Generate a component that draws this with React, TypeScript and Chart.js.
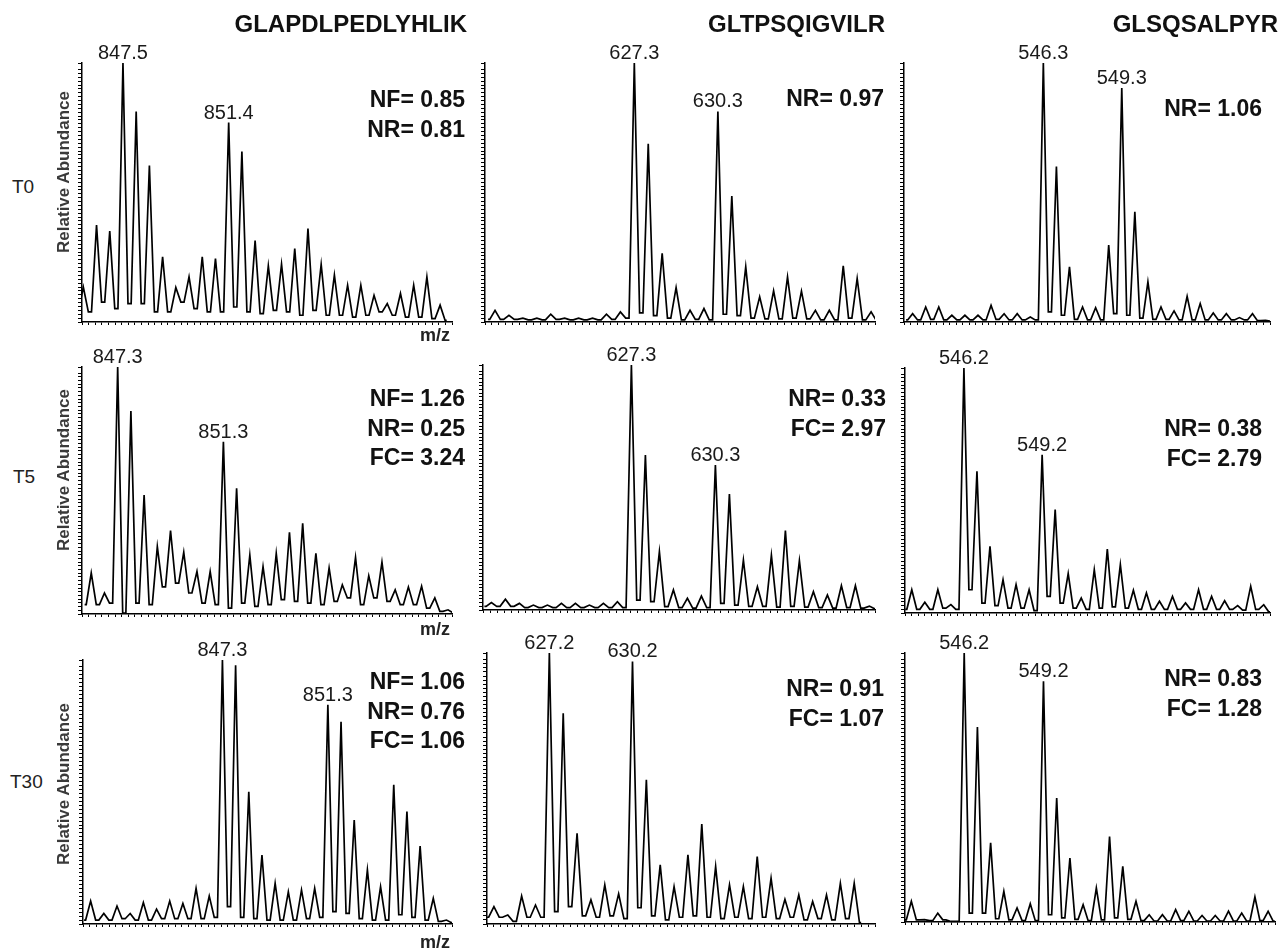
import React, { useEffect, useRef } from 'react';
import { Chart, registerables } from 'chart.js';

Chart.register(...registerables);

// ---------------- DATA ----------------
const PEPTIDES = ['GLAPDLPEDLYHLIK', 'GLTPSQIGVILR', 'GLSQSALPYR'];
const TIMEPOINTS = ['T0', 'T5', 'T30'];
const ISOTOPE_SPACING = 0.5; // m/z between isotopic peaks of the 2+ ions

// T0 – GLAPDLPEDLYHLIK
const T0_GLAP_RANGE = [846, 860];
const T0_GLAP_FIRST_MZ = 846.05;
const T0_GLAP_HEIGHTS = [13.5, 37.4, 35.1, 100, 81.3, 60.4, 25.2, 13.3, 17.4, 25.2, 24.5, 77, 65.8, 31.4, 21.7, 22.3, 28.4, 36.1, 22.2, 18.1, 14.2, 14.2, 10.3, 7.1, 11, 14.2, 17.4, 6.5];
const T0_GLAP_VALLEYS = [3.9, 7.7, 5.2, 7.1, 7.1, 3.9, 3.9, 7.7, 5.2, 3.9, 3.9, 5.8, 3.9, 3.2, 4.5, 3.9, 2.6, 4.5, 2.6, 2.6, 1.9, 2.6, 3.9, 2.6, 1.9, 1.9, 1.3, 0.6];
const T0_GLAP_PEAK_LABELS = [847.5, 851.4];
const T0_GLAP_STATS = ['NF= 0.85', 'NR= 0.81'];

// T0 – GLTPSQIGVILR
const T0_GLTP_RANGE = [622, 636];
const T0_GLTP_FIRST_MZ = 622.36;
const T0_GLTP_HEIGHTS = [4.5, 2.6, 1.5, 1.5, 3, 1.5, 1.5, 1.5, 3, 3.9, 100, 68.8, 26.5, 13.3, 4.5, 5.2, 81.3, 48.6, 21.3, 9.7, 12, 17.4, 11.9, 4.5, 4.5, 21.7, 16.8, 3.9];
const T0_GLTP_VALLEYS = [1, 1, 0.8, 0.8, 1, 0.8, 0.8, 0.8, 1, 1.5, 3.5, 2.5, 1.5, 0.8, 1, 0.8, 3, 2.5, 1.5, 1.2, 1.2, 1.5, 1.2, 0.8, 0.8, 1.5, 0.8, 0.5];
const T0_GLTP_PEAK_LABELS = [627.3, 630.3];
const T0_GLTP_STATS = ['NR= 0.97'];

// T0 – GLSQSALPYR
const T0_GLSQ_RANGE = [541, 555];
const T0_GLSQ_FIRST_MZ = 541.33;
const T0_GLSQ_HEIGHTS = [3.2, 5.8, 5.8, 2.6, 2.6, 2.6, 6.4, 3.2, 3.2, 1.9, 100, 60, 21.3, 5.8, 5.5, 29.7, 90.3, 42.6, 15.5, 5.8, 4.3, 9.9, 7.1, 3.5, 3.2, 1.7, 3.2, 0.6];
const T0_GLSQ_VALLEYS = [0.8, 1, 0.8, 0.8, 0.8, 0.8, 1, 0.8, 0.8, 0.8, 3.9, 2.6, 1, 0.8, 0.8, 3.2, 2.6, 1.5, 1, 1, 0.8, 0.8, 0.8, 0.8, 0.8, 0.8, 0.5, 0.3];
const T0_GLSQ_PEAK_LABELS = [546.3, 549.3];
const T0_GLSQ_STATS = ['NR= 1.06'];

// T5 – GLAPDLPEDLYHLIK
const T5_GLAP_RANGE = [846, 860];
const T5_GLAP_FIRST_MZ = 846.35;
const T5_GLAP_HEIGHTS = [16.6, 8.5, 100, 82.2, 48.2, 27.3, 33.8, 25, 17.2, 17.2, 69.7, 50.9, 23.8, 19.2, 24.5, 33.1, 36.7, 24.6, 18.6, 11.8, 22.9, 15.5, 21, 9.8, 10.9, 11.2, 6.5, 1.7];
const T5_GLAP_VALLEYS = [3.8, 4.4, 0.4, 4.4, 3.8, 11, 12.5, 8.5, 4.4, 3.8, 2.4, 4.4, 3.1, 3.8, 5.8, 5.1, 4.4, 3.8, 5.1, 6.5, 3.8, 6.5, 5.1, 3.8, 3.8, 2.4, 1.1, 0.4];
const T5_GLAP_PEAK_LABELS = [847.3, 851.3];
const T5_GLAP_STATS = ['NF= 1.26', 'NR= 0.25', 'FC= 3.24'];

// T5 – GLTPSQIGVILR
const T5_GLTP_RANGE = [622, 636];
const T5_GLTP_FIRST_MZ = 622.3;
const T5_GLTP_HEIGHTS = [3, 4.4, 2.7, 2, 2, 2.7, 2.7, 2, 2.7, 3.4, 100, 63.3, 23.8, 8.2, 4.8, 5.7, 59.2, 47.3, 20.4, 9.5, 22.3, 32.4, 20.1, 7.5, 6.1, 9.9, 9.9, 1.6];
const T5_GLTP_VALLEYS = [1.5, 1.5, 1, 1, 1, 1, 1, 1, 1, 1, 4, 3.4, 1.4, 1, 0.8, 1, 2.7, 2, 1.5, 1.5, 1.2, 1.5, 1.2, 1, 0.8, 1, 0.8, 0.5];
const T5_GLTP_PEAK_LABELS = [627.3, 630.3];
const T5_GLTP_STATS = ['NR= 0.33', 'FC= 2.97'];

// T5 – GLSQSALPYR
const T5_GLSQ_RANGE = [544, 558];
const T5_GLSQ_FIRST_MZ = 544.26;
const T5_GLSQ_HEIGHTS = [9.5, 4.4, 9.5, 3.4, 100, 57.8, 27.2, 13.6, 11.6, 9.5, 64.6, 42.2, 16.1, 6.1, 17.7, 26.1, 19.7, 9.3, 8.2, 4.8, 6.8, 4.1, 9.5, 6.8, 5, 3, 10.9, 3.4];
const T5_GLSQ_VALLEYS = [1.5, 1.5, 2, 1.5, 9.5, 4, 3, 2, 2, 1, 6.8, 4, 2, 1.5, 2, 2.5, 2, 1.5, 1.5, 1.5, 1.5, 1.5, 1.5, 1.5, 1.5, 1.2, 1.5, 0.5];
const T5_GLSQ_PEAK_LABELS = [546.2, 549.2];
const T5_GLSQ_STATS = ['NR= 0.38', 'FC= 2.79'];

// T30 – GLAPDLPEDLYHLIK
const T30_GLAP_RANGE = [842, 856];
const T30_GLAP_FIRST_MZ = 842.29;
const T30_GLAP_HEIGHTS = [8.7, 4, 6.8, 4, 8.1, 5.6, 8.7, 7.8, 13.5, 10.6, 100, 98, 50.1, 26.1, 15.4, 12.2, 12.9, 13.5, 83, 76.6, 39.4, 20.5, 14.1, 52.7, 42.6, 29.5, 9.7, 1.5];
const T30_GLAP_VALLEYS = [1.5, 1.5, 2, 1.5, 1.5, 2, 2, 2, 2, 2.5, 6.6, 2.5, 2, 1.5, 1.5, 1.5, 2, 2.5, 4.7, 4, 2, 1.5, 1.5, 3.5, 2.5, 1.5, 1, 0.5];
const T30_GLAP_PEAK_LABELS = [847.3, 851.3];
const T30_GLAP_STATS = ['NF= 1.06', 'NR= 0.76', 'FC= 1.06'];

// T30 – GLTPSQIGVILR
const T30_GLTP_RANGE = [625, 639];
const T30_GLTP_FIRST_MZ = 625.25;
const T30_GLTP_HEIGHTS = [6.4, 3.3, 10.3, 7, 100, 77.8, 33.5, 8.9, 14.4, 11.1, 96.9, 53.2, 21.8, 13.8, 25.5, 36.9, 21.2, 14.4, 13.8, 24.9, 16.9, 9.1, 10.7, 8.3, 10.7, 15, 15];
const T30_GLTP_VALLEYS = [2.5, 1, 2.5, 2.5, 4.6, 6.4, 3, 2.5, 3, 2, 6, 3, 1.5, 2.5, 3, 2.5, 2, 2.5, 2, 2.5, 2, 2.5, 1.5, 2, 1.5, 2, 0.5];
const T30_GLTP_PEAK_LABELS = [627.2, 630.2];
const T30_GLTP_STATS = ['NR= 0.91', 'FC= 1.07'];

// T30 – GLSQSALPYR
const T30_GLSQ_RANGE = [544, 558];
const T30_GLSQ_FIRST_MZ = 544.24;
const T30_GLSQ_HEIGHTS = [7.7, 0.9, 3.3, 0.2, 100, 72.5, 29.4, 11.4, 5.2, 6.8, 89.5, 46.1, 23.8, 6.4, 12.6, 31.8, 20.7, 7.7, 2.7, 2.7, 4.6, 4, 2.4, 2.4, 4, 3.3, 9.3, 4];
const T30_GLSQ_VALLEYS = [0.8, 0.5, 0.8, 0.2, 3.3, 3.3, 1.2, 0.8, 0.5, 0.5, 2.7, 1.5, 1, 0.5, 0.8, 1.5, 1, 0.5, 0.3, 0.3, 0.5, 0.3, 0.3, 0.3, 0.3, 0.3, 0.5, 0.3];
const T30_GLSQ_PEAK_LABELS = [546.2, 549.2];
const T30_GLSQ_STATS = ['NR= 0.83', 'FC= 1.28'];

// ---------------- LAYOUT / STYLE ----------------
const FONT = '"Liberation Sans", Arial, Helvetica, sans-serif';
const PEAK_HALF_WIDTH = 0.19;
const PAD_L = 10;
const PAD_T = 40;
const PAD_R = 4;
const PAD_B = 8;

type Panel = {
  rect: number[]; // left, top, right, bottom of plot area
  range: number[];
  firstMz: number;
  heights: number[];
  valleys: number[];
  labels: number[];
  stats: string[];
  statsRight: number;
  statsBaseline: number;
};

const PANELS: Panel[] = [
  { rect: [82, 63, 452, 322], range: T0_GLAP_RANGE, firstMz: T0_GLAP_FIRST_MZ, heights: T0_GLAP_HEIGHTS, valleys: T0_GLAP_VALLEYS, labels: T0_GLAP_PEAK_LABELS, stats: T0_GLAP_STATS, statsRight: 465, statsBaseline: 108 },
  { rect: [485, 63, 875, 322], range: T0_GLTP_RANGE, firstMz: T0_GLTP_FIRST_MZ, heights: T0_GLTP_HEIGHTS, valleys: T0_GLTP_VALLEYS, labels: T0_GLTP_PEAK_LABELS, stats: T0_GLTP_STATS, statsRight: 884, statsBaseline: 107 },
  { rect: [904, 63, 1270, 322], range: T0_GLSQ_RANGE, firstMz: T0_GLSQ_FIRST_MZ, heights: T0_GLSQ_HEIGHTS, valleys: T0_GLSQ_VALLEYS, labels: T0_GLSQ_PEAK_LABELS, stats: T0_GLSQ_STATS, statsRight: 1262, statsBaseline: 117 },
  { rect: [82, 367, 452, 614], range: T5_GLAP_RANGE, firstMz: T5_GLAP_FIRST_MZ, heights: T5_GLAP_HEIGHTS, valleys: T5_GLAP_VALLEYS, labels: T5_GLAP_PEAK_LABELS, stats: T5_GLAP_STATS, statsRight: 465, statsBaseline: 407 },
  { rect: [483, 365, 875, 610], range: T5_GLTP_RANGE, firstMz: T5_GLTP_FIRST_MZ, heights: T5_GLTP_HEIGHTS, valleys: T5_GLTP_VALLEYS, labels: T5_GLTP_PEAK_LABELS, stats: T5_GLTP_STATS, statsRight: 886, statsBaseline: 407 },
  { rect: [905, 368, 1270, 613], range: T5_GLSQ_RANGE, firstMz: T5_GLSQ_FIRST_MZ, heights: T5_GLSQ_HEIGHTS, valleys: T5_GLSQ_VALLEYS, labels: T5_GLSQ_PEAK_LABELS, stats: T5_GLSQ_STATS, statsRight: 1262, statsBaseline: 437 },
  { rect: [83, 660, 452, 924], range: T30_GLAP_RANGE, firstMz: T30_GLAP_FIRST_MZ, heights: T30_GLAP_HEIGHTS, valleys: T30_GLAP_VALLEYS, labels: T30_GLAP_PEAK_LABELS, stats: T30_GLAP_STATS, statsRight: 465, statsBaseline: 690 },
  { rect: [487, 653, 875, 924], range: T30_GLTP_RANGE, firstMz: T30_GLTP_FIRST_MZ, heights: T30_GLTP_HEIGHTS, valleys: T30_GLTP_VALLEYS, labels: T30_GLTP_PEAK_LABELS, stats: T30_GLTP_STATS, statsRight: 884, statsBaseline: 697 },
  { rect: [905, 653, 1275, 922], range: T30_GLSQ_RANGE, firstMz: T30_GLSQ_FIRST_MZ, heights: T30_GLSQ_HEIGHTS, valleys: T30_GLSQ_VALLEYS, labels: T30_GLSQ_PEAK_LABELS, stats: T30_GLSQ_STATS, statsRight: 1262, statsBaseline: 687 },
];

const TITLE_RIGHTS = [467, 885, 1278];
const ROW_LABEL_POS = [
  { left: 12, baseline: 193 },
  { left: 13, baseline: 483 },
  { left: 10, baseline: 788 },
];
const YTITLE_CENTERS = [172, 470, 784];
const MZ_BASELINES = [341, 635, 948];

function peakMz(p: Panel, i: number) {
  return p.firstMz + ISOTOPE_SPACING * i;
}

function Spectrum({ p }: { p: Panel }) {
  const ref = useRef<HTMLCanvasElement | null>(null);
  const [l, t, r, b] = p.rect;
  const w = r - l + PAD_L + PAD_R;
  const h = b - t + PAD_T + PAD_B;

  useEffect(() => {
    if (!ref.current) return;
    const pts: { x: number; y: number }[] = [];
    const n = p.heights.length;
    p.heights.forEach((hv, i) => {
      const m = peakMz(p, i);
      const before = i === 0 ? p.valleys[0] : p.valleys[i - 1];
      if (i === 0) pts.push({ x: m - ISOTOPE_SPACING / 2, y: before });
      pts.push({ x: m - PEAK_HALF_WIDTH, y: before });
      pts.push({ x: m, y: hv });
      pts.push({ x: m + PEAK_HALF_WIDTH, y: p.valleys[i] });
    });
    pts.push({ x: peakMz(p, n - 1) + ISOTOPE_SPACING / 2, y: p.valleys[n - 1] });

    const labelPlugin = {
      id: 'peakLabels',
      afterDatasetsDraw(chart: any) {
        const ctx = chart.ctx;
        const xs = chart.scales.x;
        const ys = chart.scales.y;
        ctx.save();
        ctx.fillStyle = '#1a1a1a';
        ctx.font = `20px ${FONT}`;
        ctx.textAlign = 'center';
        ctx.textBaseline = 'alphabetic';
        p.labels.forEach((lab) => {
          let best = 0;
          let bd = Infinity;
          p.heights.forEach((_, i) => {
            const d = Math.abs(peakMz(p, i) - lab);
            if (d < bd) { bd = d; best = i; }
          });
          const px = xs.getPixelForValue(peakMz(p, best));
          const py = ys.getPixelForValue(p.heights[best]) - 4;
          ctx.fillText(lab.toFixed(1), px, py);
        });
        ctx.restore();
      },
    };

    const chart = new Chart(ref.current, {
      type: 'line',
      data: {
        datasets: [
          {
            data: pts,
            borderColor: '#000',
            borderWidth: 1.7,
            pointRadius: 0,
            tension: 0,
            fill: false,
            clip: { left: 0, right: 0, top: 6, bottom: 2 } as any,
          },
        ],
      },
      options: {
        animation: false,
        responsive: false,
        events: [],
        layout: { padding: { left: PAD_L - 5, top: PAD_T, right: PAD_R, bottom: PAD_B - 5 } },
        plugins: { legend: { display: false }, tooltip: { enabled: false }, title: { display: false } },
        scales: {
          x: {
            type: 'linear',
            min: p.range[0],
            max: p.range[1],
            afterFit: (s: any) => { s.height = 5; },
            border: { display: true, color: '#000', width: 1.5 },
            grid: { display: true, drawOnChartArea: false, drawTicks: true, tickLength: 3, color: '#000', lineWidth: 1 },
            ticks: { display: false, stepSize: 0.25, autoSkip: false },
          },
          y: {
            type: 'linear',
            min: 0,
            max: 100,
            afterFit: (s: any) => { s.width = 5; },
            border: { display: true, color: '#000', width: 1.5 },
            grid: { display: true, drawOnChartArea: false, drawTicks: true, tickLength: 4, color: '#000', lineWidth: 1 },
            ticks: { display: false, stepSize: 1.5, autoSkip: false },
          },
        },
      },
      plugins: [labelPlugin],
    });
    return () => chart.destroy();
  }, []);

  return (
    <canvas
      ref={ref}
      width={w}
      height={h}
      style={{ position: 'absolute', left: l - PAD_L, top: t - PAD_T, width: w, height: h }}
    />
  );
}

function Txt({ children, x, baseline, size, bold, align, color }: any) {
  const top = baseline - 0.85 * size;
  const style: any = {
    position: 'absolute',
    top,
    fontFamily: FONT,
    fontSize: size,
    lineHeight: `${size}px`,
    fontWeight: bold ? 'bold' : 'normal',
    whiteSpace: 'nowrap',
    color: color || '#111',
  };
  if (align === 'right') {
    style.right = 1279 - x;
    style.textAlign = 'right';
  } else if (align === 'center') {
    style.left = x;
    style.transform = 'translateX(-50%)';
  } else {
    style.left = x;
  }
  return <div style={style}>{children}</div>;
}

export default function App() {
  return (
    <div style={{ position: 'absolute', left: 0, top: 0, width: 1279, height: 949, background: '#fff', overflow: 'hidden' }}>
      {PANELS.map((p, i) => (
        <Spectrum key={i} p={p} />
      ))}
      {PEPTIDES.map((name, i) => (
        <Txt key={name} x={TITLE_RIGHTS[i]} baseline={32.5} size={24} bold align="right">{name}</Txt>
      ))}
      {TIMEPOINTS.map((tp, i) => (
        <Txt key={tp} x={ROW_LABEL_POS[i].left} baseline={ROW_LABEL_POS[i].baseline} size={19} color="#222">{tp}</Txt>
      ))}
      {YTITLE_CENTERS.map((cy, i) => (
        <div
          key={'yt' + i}
          style={{
            position: 'absolute',
            left: 63,
            top: cy,
            transform: 'translate(-50%, -50%) rotate(-90deg)',
            fontFamily: FONT,
            fontSize: 17,
            fontWeight: 'bold',
            color: '#3a3a3a',
            whiteSpace: 'nowrap',
            lineHeight: '17px',
          }}
        >
          Relative Abundance
        </div>
      ))}
      {MZ_BASELINES.map((bl, i) => (
        <Txt key={'mz' + i} x={450} baseline={bl} size={18} bold align="right" color="#222">m/z</Txt>
      ))}
      {PANELS.map((p, i) =>
        p.stats.map((s, j) => (
          <Txt key={`st${i}-${j}`} x={p.statsRight} baseline={p.statsBaseline + j * 29.5} size={23} bold align="right" color="#111">{s}</Txt>
        ))
      )}
    </div>
  );
}
